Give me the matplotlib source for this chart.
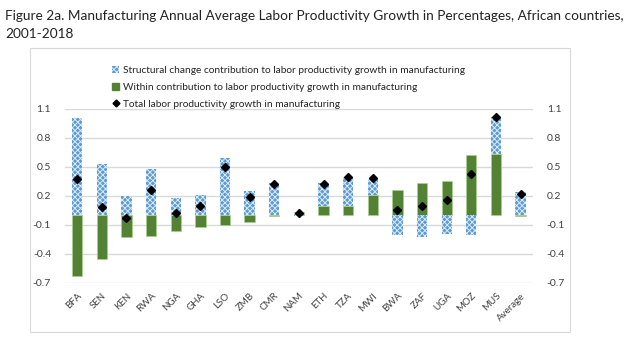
import matplotlib.pyplot as plt
import numpy as np
from matplotlib.lines import Line2D
from matplotlib.patches import Patch, Rectangle

plt.rcParams["font.family"] = ["Lato", "DejaVu Sans"]
plt.rcParams["hatch.linewidth"] = 0.7

countries = ["BFA", "SEN", "KEN", "RWA", "NGA", "GHA", "LSO", "ZMB", "CMR", "NAM",
             "ETH", "TZA", "MWI", "BWA", "ZAF", "UGA", "MOZ", "MUS", "Average"]
structural = [1.00, 0.53, 0.20, 0.48, 0.18, 0.21, 0.59, 0.25, 0.33, -0.01,
              0.23, 0.29, 0.16, -0.21, -0.23, -0.19, -0.20, 0.39, 0.24]
within = [-0.63, -0.45, -0.23, -0.22, -0.16, -0.12, -0.10, -0.07, -0.01, 0.03,
          0.10, 0.10, 0.21, 0.26, 0.33, 0.35, 0.62, 0.63, -0.01]
total = [0.37, 0.08, -0.03, 0.26, 0.02, 0.09, 0.50, 0.19, 0.32, 0.02,
         0.32, 0.39, 0.38, 0.05, 0.10, 0.16, 0.43, 1.02, 0.22]
yticks = [-0.7, -0.4, -0.1, 0.2, 0.5, 0.8, 1.1]

BLUE = "#5B9BD5"
GREEN = "#548235"
GRID = "#D9D9D9"

fig = plt.figure(figsize=(6.24, 3.4), dpi=100)

# chart frame
fig.patches.append(Rectangle((0.048, 0.024), 0.866, 0.835, transform=fig.transFigure,
                             fill=False, edgecolor=GRID, linewidth=0.8))

fig.text(0.008, 0.97, "Figure 2a. Manufacturing Annual Average Labor Productivity Growth in "
         "Percentages, African countries,\n2001-2018",
         fontsize=9.8, va="top", ha="left", linespacing=1.6, color="#222222")

ax = fig.add_axes([0.104, 0.168, 0.75, 0.512])
x = np.arange(len(countries))
s = np.array(structural)
w = np.array(within)
s_bottom = np.where(np.sign(s) == np.sign(w), w, 0.0)

ax.bar(x, w, 0.42, color=GREEN, edgecolor="#A9D18E", linewidth=0.5, zorder=2)
ax.bar(x, s, 0.42, bottom=s_bottom, color=BLUE, edgecolor="#DDEBF7", hatch="xxxxxx",
       linewidth=0, zorder=2)
ax.plot(x, total, linestyle="none", marker="D", markersize=4.5, color="black", zorder=3)

ax.set_xlim(-0.5, len(countries) - 0.5)
ax.set_ylim(-0.7, 1.1)
ax.set_yticks(yticks)
ax.set_yticklabels([f"{v:.1f}" for v in yticks])
ax.grid(axis="y", color=GRID, linewidth=1.0, zorder=0)
ax.set_axisbelow(True)
for sp in ax.spines.values():
    sp.set_visible(False)
ax.tick_params(axis="y", length=0, pad=10, labelsize=7.5, labelcolor="#404040")
ax.tick_params(axis="x", length=0, pad=6, labelsize=7, labelcolor="#404040")
ax.set_xticks(x)
ax.set_xticklabels(countries, rotation=45, ha="right", rotation_mode="anchor")

ax2 = ax.twinx()
ax2.set_ylim(-0.7, 1.1)
ax2.set_yticks(yticks)
ax2.set_yticklabels([f"{v:.1f}" for v in yticks])
for sp in ax2.spines.values():
    sp.set_visible(False)
ax2.tick_params(axis="y", length=0, pad=10, labelsize=7.5, labelcolor="#404040")

handles = [
    Patch(facecolor=BLUE, edgecolor="#DDEBF7", hatch="xxxxxx", linewidth=0),
    Patch(facecolor=GREEN, edgecolor=GREEN),
    Line2D([], [], linestyle="none", marker="D", markersize=3.5, color="black"),
]
labels = [
    "Structural change contribution to labor productivity growth in manufacturing",
    "Within contribution to labor productivity growth in manufacturing",
    "Total labor productivity growth in manufacturing",
]
fig.legend(handles, labels, loc="upper left", bbox_to_anchor=(0.172, 0.82),
           frameon=False, fontsize=7.3, handlelength=0.7, handleheight=0.7,
           handletextpad=0.3, labelspacing=0.75, borderpad=0, labelcolor="#222222")

fig.savefig("out.png", dpi=100)
